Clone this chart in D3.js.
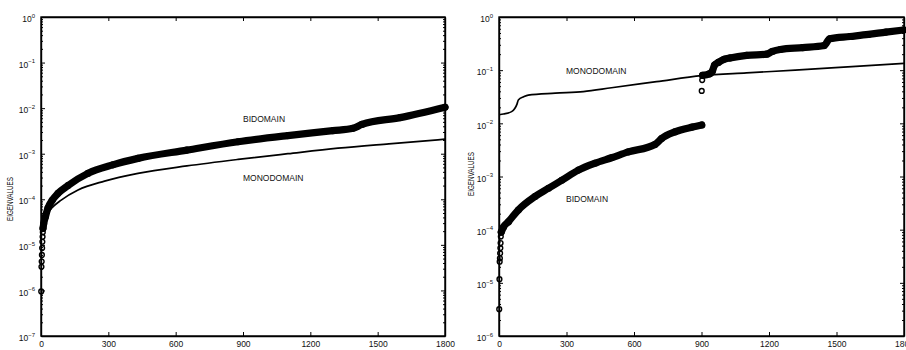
<!DOCTYPE html>
<html lang="en">
<head>
<meta charset="utf-8">
<title>eigenvalues</title>
<script src="https://cdn.jsdelivr.net/npm/d3@7"></script>
<style>
body { margin: 0; background: #fff; }
svg text { font-family: "Liberation Sans", Arial, Helvetica, sans-serif; fill: #111; }
.domain { stroke: #000; stroke-width: 1.4; }
.tick line { stroke: #000; stroke-width: 1; }
</style>
</head>
<body>
<div id="drawing"></div>
<script>
// shared x ticks
var xTicks = [0, 300, 600, 900, 1200, 1500, 1800];
var leftExponents = [0, -1, -2, -3, -4, -5, -6, -7];
var rightExponents = [0, -1, -2, -3, -4, -5, -6];

// left panel: [index, eigenvalue]
var leftBidoSparse = [[1, 9.5e-7], [2, 3.3e-6], [3, 4.3e-6], [4, 6.0e-6], [5, 8.5e-6], [6, 1.17e-5], [7, 1.5e-5], [8, 1.9e-5]];
var leftBidoBand = [[9, 2.3e-5], [12, 2.9e-5], [20, 4.2e-5], [31, 6.4e-5], [50, 9.5e-5], [76, 1.35e-4], [120, 2.0e-4],
    [209, 3.7e-4], [320, 5.7e-4], [432, 7.9e-4], [650, 1.2e-3], [878, 1.83e-3], [1100, 2.5e-3], [1300, 3.2e-3],
    [1390, 3.6e-3], [1430, 4.4e-3], [1600, 6.2e-3], [1800, 1.05e-2]];
var leftMono = [[1, 2.6e-5], [5, 3.0e-5], [15, 3.9e-5], [46, 6.3e-5], [90, 9.6e-5], [165, 1.6e-4], [283, 2.5e-4],
    [432, 3.7e-4], [650, 5.4e-4], [878, 7.5e-4], [1100, 1.0e-3], [1323, 1.32e-3], [1550, 1.65e-3], [1800, 2.08e-3]];

// right panel
var rightBidoSparse = [[1, 3.2e-6], [2, 1.17e-5], [3, 2.5e-5], [4, 2.9e-5], [5, 3.6e-5], [6, 4.5e-5], [7, 5.6e-5], [8, 7.4e-5],
    [901, 4.07e-2], [903, 6.5e-2]];
var rightBidoBand1 = [[10, 9.0e-5], [20, 1.12e-4], [42, 1.41e-4], [86, 2.35e-4], [160, 4.2e-4], [220, 6.0e-4], [279, 8.5e-4],
    [353, 1.32e-3], [427, 1.78e-3], [500, 2.25e-3], [575, 2.9e-3], [693, 4.0e-3], [723, 5.2e-3], [782, 6.9e-3],
    [860, 8.5e-3], [901, 9.3e-3]];
var rightBidoBand2 = [[905, 8.0e-2], [935, 8.5e-2], [948, 9.5e-2], [958, 0.125], [975, 0.14], [1000, 0.16], [1027, 0.17],
    [1101, 0.19], [1190, 0.20], [1215, 0.225], [1250, 0.245], [1350, 0.265], [1445, 0.29], [1470, 0.39], [1560, 0.43],
    [1642, 0.47], [1720, 0.52], [1798, 0.57]];
var rightMono = [[1, 1.45e-2], [20, 1.5e-2], [56, 1.66e-2], [70, 1.9e-2], [80, 2.3e-2], [86, 2.75e-2], [110, 3.16e-2],
    [130, 3.4e-2], [250, 3.7e-2], [375, 3.96e-2], [500, 4.67e-2], [700, 6.07e-2], [901, 7.9e-2], [1100, 8.9e-2],
    [1316, 0.1], [1550, 0.115], [1800, 0.134]];

var svg = d3.select("#drawing").append("svg")
    .attr("width", 906)
    .attr("height", 350);

var panels = [
    {left: 41, right: 445, yMin: 1e-7, exps: leftExponents, labelX: 13, labelY: 199,
     sparse: leftBidoSparse, bands: [leftBidoBand], mono: leftMono,
     notes: [["BIDOMAIN", 243, 122], ["MONODOMAIN", 243, 181]]},
    {left: 499, right: 904, yMin: 1e-6, exps: rightExponents, labelX: 474, labelY: 174,
     sparse: rightBidoSparse, bands: [rightBidoBand1, rightBidoBand2], mono: rightMono,
     notes: [["MONODOMAIN", 566, 74], ["BIDOMAIN", 566, 202]]}
];
var plotTop = 17, plotBottom = 336;

panels.forEach(function(p) {
    var x = d3.scaleLinear().domain([0, 1800]).range([p.left, p.right]);
    var y = d3.scaleLog().domain([p.yMin, 1]).range([plotBottom, plotTop]);

    var majors = p.exps.map(function(e) { return Math.pow(10, e); });
    var minors = [];
    p.exps.forEach(function(e) {
        if (e == 0) return;
        for (var k = 2; k <= 9; k++) minors.push(k * Math.pow(10, e));
    });

    var g = svg.append("g");

    // minor log ticks, left and right
    g.append("g").attr("transform", "translate(" + p.left + ",0)")
        .call(d3.axisLeft(y).tickValues(minors).tickSizeInner(-2).tickSizeOuter(0).tickFormat(""))
        .select(".domain").remove();
    g.append("g").attr("transform", "translate(" + p.right + ",0)")
        .call(d3.axisRight(y).tickValues(minors).tickSizeInner(-2).tickSizeOuter(0).tickFormat(""))
        .select(".domain").remove();

    // major y ticks with 10^e labels
    var yAxis = g.append("g").attr("transform", "translate(" + p.left + ",0)")
        .call(d3.axisLeft(y).tickValues(majors).tickSizeInner(-4).tickSizeOuter(0).tickPadding(6));
    yAxis.selectAll(".tick text").each(function(d) {
        var t = d3.select(this).text(null).attr("dy", "0.55em");
        t.append("tspan").text("10");
        t.append("tspan").attr("dy", -4.5).style("font-size", "6px")
            .text(String(Math.round(Math.log10(d))).replace("-", "\u2212"));
    });
    g.append("g").attr("transform", "translate(" + p.right + ",0)")
        .call(d3.axisRight(y).tickValues(majors).tickSizeInner(-4).tickSizeOuter(0).tickFormat(""));

    // x ticks bottom and top
    g.append("g").attr("transform", "translate(0," + plotBottom + ")")
        .call(d3.axisBottom(x).tickValues(xTicks).tickSizeInner(-4).tickSizeOuter(0).tickPadding(4.5)
            .tickFormat(d3.format("d")));
    g.append("g").attr("transform", "translate(0," + plotTop + ")")
        .call(d3.axisTop(x).tickValues(xTicks).tickSizeInner(-4).tickSizeOuter(0).tickFormat(""));

    g.selectAll(".tick text").attr("font-family", null).attr("font-size", null).style("font-size", "8.5px");
    g.selectAll(".tick tspan:nth-child(2)").style("font-size", "6px");

    // axis title
    g.append("text")
        .attr("transform", "translate(" + p.labelX + "," + p.labelY + ") rotate(-90)")
        .attr("text-anchor", "middle")
        .attr("textLength", 44)
        .attr("lengthAdjust", "spacingAndGlyphs")
        .style("font-size", "8.5px")
        .text("EIGENVALUES");

    var line = d3.line()
        .curve(d3.curveMonotoneX)
        .x(function(d) { return x(d[0]); })
        .y(function(d) { return y(d[1]); });

    // monodomain: thin line
    g.append("path")
        .datum(p.mono)
        .attr("d", line)
        .attr("fill", "none")
        .attr("stroke", "#000")
        .attr("stroke-width", 1.7)
        .attr("stroke-linejoin", "round");

    // bidomain: dense circles form a thick band
    p.bands.forEach(function(b) {
        g.append("path")
            .datum(b)
            .attr("d", line)
            .attr("fill", "none")
            .attr("stroke", "#000")
            .attr("stroke-width", 7.2)
            .attr("stroke-linejoin", "round")
            .attr("stroke-linecap", "round");
        g.selectAll(null).data(b).enter().append("circle")
            .attr("cx", function(d) { return x(d[0]); })
            .attr("cy", function(d) { return y(d[1]); })
            .attr("r", 2.8)
            .attr("fill", "none")
            .attr("stroke", "#000")
            .attr("stroke-width", 1.5);
    });
    g.selectAll(null).data(p.sparse).enter().append("circle")
        .attr("cx", function(d) { return x(d[0]); })
        .attr("cy", function(d) { return y(d[1]); })
        .attr("r", 2.4)
        .attr("fill", "none")
        .attr("stroke", "#000")
        .attr("stroke-width", 1.4);

    // frame
    g.append("rect")
        .attr("x", p.left).attr("y", plotTop)
        .attr("width", p.right - p.left).attr("height", plotBottom - plotTop)
        .attr("fill", "none").attr("stroke", "#000").attr("stroke-width", 1.4);

    p.notes.forEach(function(n) {
        g.append("text")
            .attr("x", n[1]).attr("y", n[2])
            .style("font-size", "8.5px")
            .text(n[0]);
    });
});
</script>
</body>
</html>
